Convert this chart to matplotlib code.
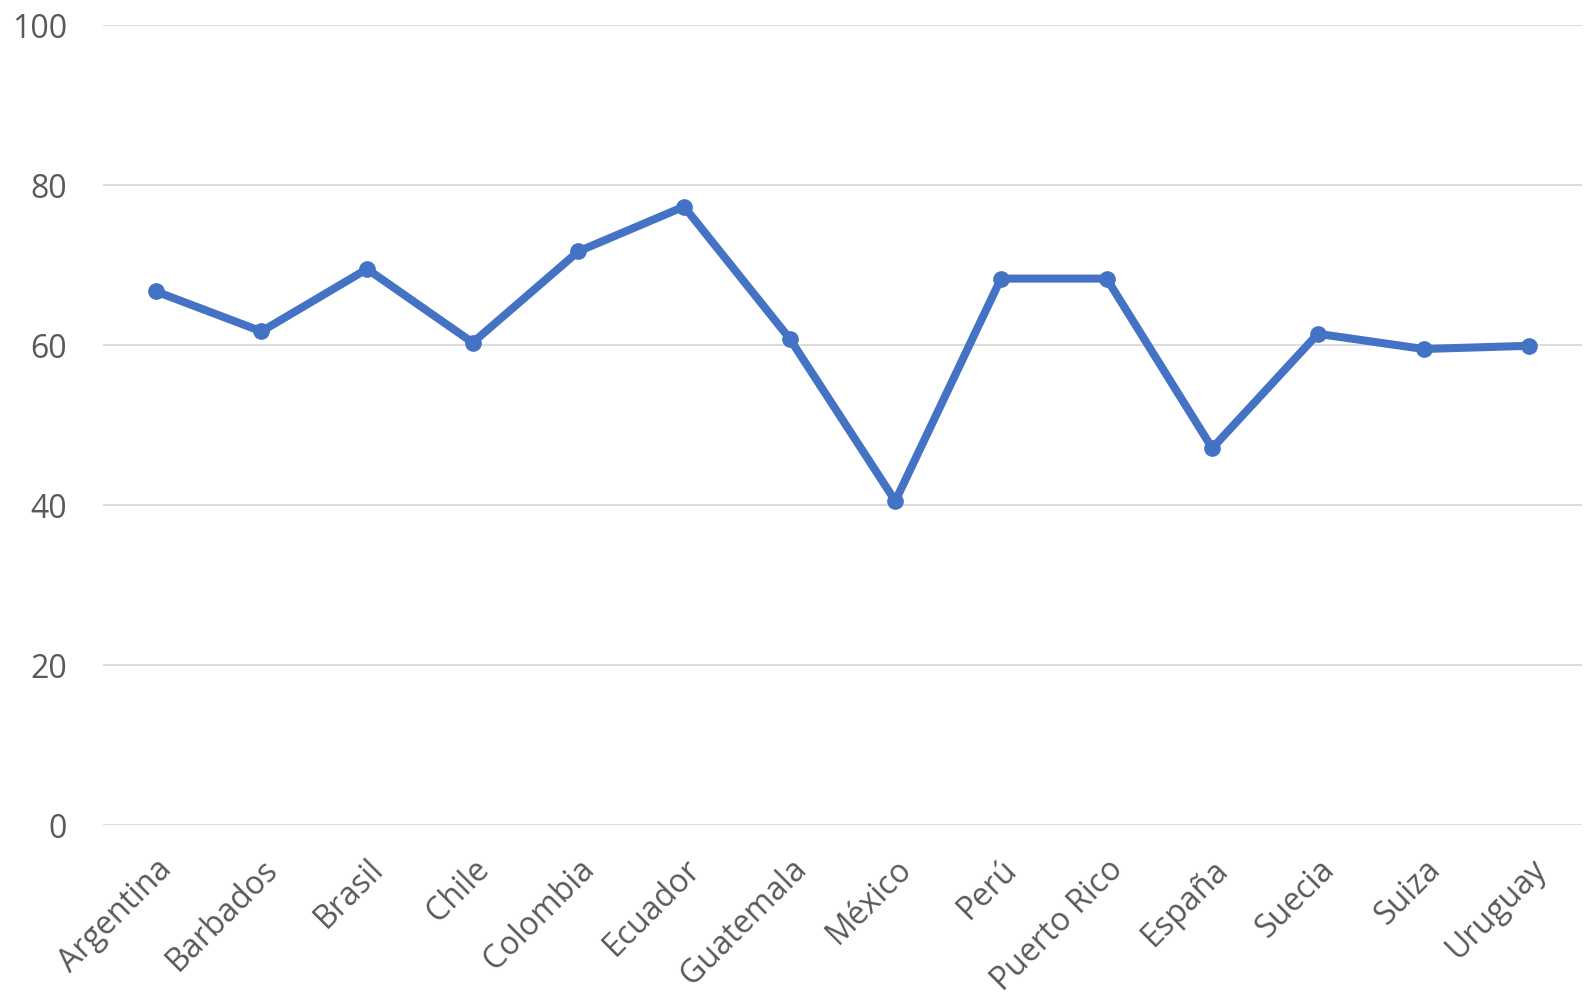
import matplotlib.pyplot as plt

paises = ["Argentina", "Barbados", "Brasil", "Chile", "Colombia", "Ecuador",
          "Guatemala", "México", "Perú", "Puerto Rico", "España", "Suecia",
          "Suiza", "Uruguay"]
valores = [66.7, 61.7, 69.5, 60.3, 71.7, 77.3, 60.8, 40.5, 68.3, 68.3,
           47.1, 61.4, 59.5, 59.9]
yticks = [0, 20, 40, 60, 80, 100]

plt.rcParams["font.family"] = ["Open Sans", "DejaVu Sans"]

fig = plt.figure(figsize=(15.95, 10.02), dpi=100)
ax = fig.add_axes([103 / 1595, 1 - 825 / 1002, 1479 / 1595, 800 / 1002])

x = range(len(paises))
ax.plot(x, valores, color="#4472C4", linewidth=5.8, marker="o", markersize=11,
        solid_capstyle="round", zorder=3)

ax.set_xlim(-0.5, len(paises) - 0.5)
ax.set_ylim(0, 100)
ax.set_yticks(yticks)
ax.set_xticks(list(x))
ax.set_xticklabels(paises, rotation=45, ha="right", rotation_mode="anchor")
ax.tick_params(axis="both", length=0, labelsize=23, colors="#595959")
ax.tick_params(axis="x", pad=20)
ax.tick_params(axis="y", pad=26)
for lbl in ax.get_yticklabels():
    lbl.set_horizontalalignment("right")

ax.grid(axis="y", color="#D9D9D9", linewidth=1.3)
ax.set_axisbelow(True)
for s in ax.spines.values():
    s.set_visible(False)

fig.savefig("out.png", dpi=100)
